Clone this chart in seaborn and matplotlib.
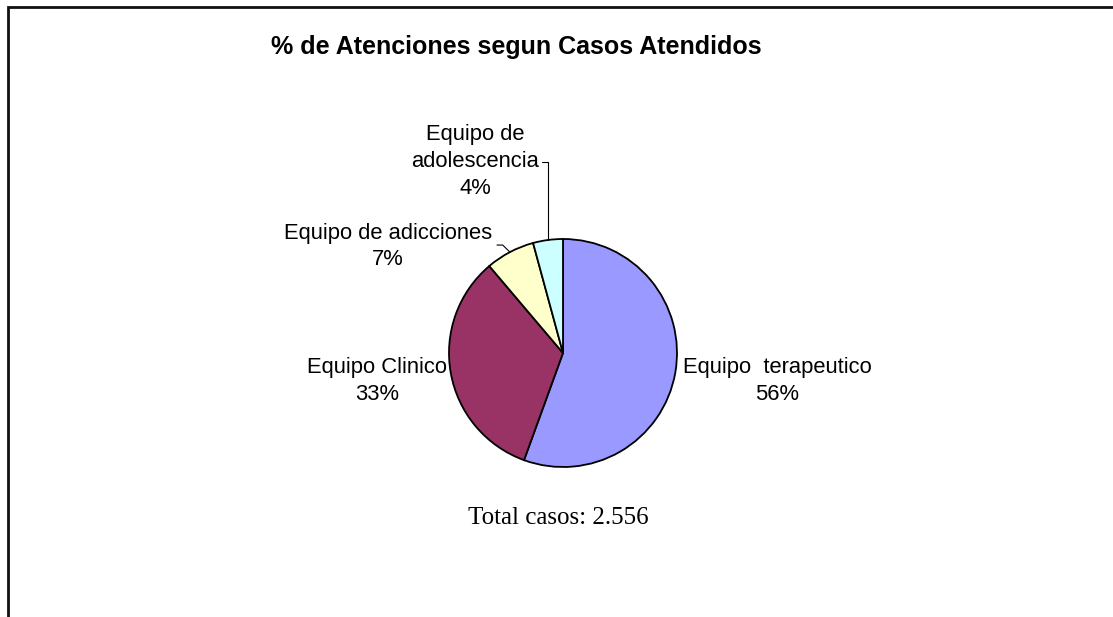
import numpy as np
import matplotlib.pyplot as plt
import seaborn as sns
from matplotlib.patches import Rectangle

# Data (total 2.556 casos)
equipos = ["Equipo  terapeutico", "Equipo Clinico", "Equipo de adicciones", "Equipo de\nadolescencia"]
casos = [1420, 850, 178, 108]
colores = ["#9999FF", "#993366", "#FFFFCC", "#CCFFFF"]
titulo = "% de Atenciones segun Casos Atendidos"
total_txt = "Total casos: 2.556"

sns.set_theme(style="white")
plt.rcParams["font.family"] = ["Liberation Sans", "DejaVu Sans"]

W, H = 1113, 617
fig = plt.figure(figsize=(W / 100, H / 100), dpi=100)
fig.patch.set_facecolor("white")

# pie box in pixels: centre (563, 353), radius 114
cx, cy, r = 563, 353, 114
ax = fig.add_axes([(cx - r) / W, (H - cy - r) / H, 2 * r / W, 2 * r / H])
wedges, _ = ax.pie(casos, colors=colores, startangle=90, counterclock=False,
                   wedgeprops=dict(edgecolor="black", linewidth=1.3))
ax.set_xlim(-1, 1)
ax.set_ylim(-1, 1)
ax.set_aspect("equal")
ax.axis("off")

pct = np.round(np.array(casos) / sum(casos) * 100).astype(int)
labels = [f"{e}\n{p}%" for e, p in zip(equipos, pct)]

# label positions (pie radius units)
pos = [(1.877, -0.245), (-1.631, -0.245), (-1.535, 0.935), (-0.772, 1.68)]
for lab, (x, y) in zip(labels, pos):
    ax.text(x, y, lab, ha="center", va="center", fontsize=15.8,
            color="black", linespacing=1.35, clip_on=False)

# leader lines for the two small slices, ending at the wedge mid-angle
for w, start in zip(wedges[2:], [(-0.579, 0.947), (-0.184, 1.675)]):
    ang = np.deg2rad((w.theta1 + w.theta2) / 2)
    ex, ey = np.cos(ang), np.sin(ang)
    ax.plot([start[0], ex if abs(ex - start[0]) < 0.06 else start[0] + 0.05, ex],
            [start[1], start[1], ey], color="black", lw=0.8, clip_on=False)

fig.text(516 / W, (H - 47) / H, titulo, ha="center", va="center",
         fontsize=18, fontweight="bold", color="black")
fig.text(558 / W, (H - 518) / H, total_txt, ha="center", va="center",
         fontsize=18, family=["Liberation Serif", "DejaVu Serif"], color="black")

# chart area frame (only top and left visible in the crop)
fig.add_artist(Rectangle((8 / W, -0.1), 1.2, (H - 7) / H + 0.1, transform=fig.transFigure,
                         fill=False, edgecolor="#111111", linewidth=2))

fig.savefig("out.png", dpi=100)
